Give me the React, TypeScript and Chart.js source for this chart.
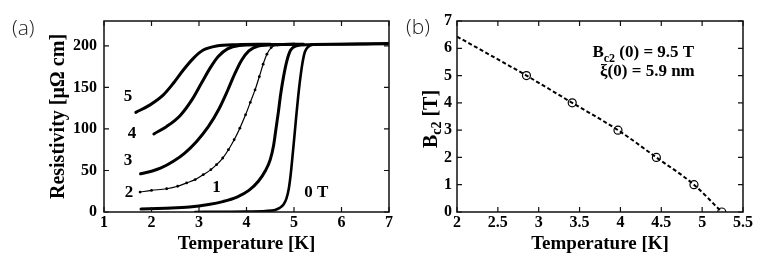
import React, { useEffect, useRef } from "react";
import { Chart, registerables } from "chart.js";
Chart.register(...registerables);

type Pt = [number, number];

// ---------- Panel (a): resistivity vs temperature ----------
const tempTicksA = [1, 2, 3, 4, 5, 6, 7];
const rhoTicks = [0, 50, 100, 150, 200];

const rho0T: Pt[] = [
  [2.92, 0], [3.5, 0.3], [4.0, 0.6], [4.4, 1.2], [4.6, 2.5], [4.7, 5], [4.78, 9], [4.84, 16],
  [4.89, 28], [4.93, 45], [4.97, 68], [5.01, 92], [5.05, 117], [5.09, 140], [5.13, 160],
  [5.18, 180], [5.23, 193], [5.3, 199], [5.4, 201.5], [5.8, 202], [6.5, 202.5], [7, 203],
];
const rho1T: Pt[] = [
  [1.78, 3.5], [2.3, 4.5], [2.8, 6], [3.2, 9], [3.5, 12.5], [3.8, 18], [4.05, 26], [4.25, 37],
  [4.4, 50], [4.5, 63], [4.57, 80], [4.62, 100], [4.67, 120], [4.72, 142], [4.78, 163],
  [4.85, 182], [4.93, 195], [5.05, 200], [5.3, 201.5], [6, 202], [7, 202.5],
];
const rho2T: Pt[] = [
  [1.76, 24], [2.0, 26], [2.32, 28], [2.55, 31], [2.74, 35], [2.92, 39], [3.09, 45], [3.25, 51],
  [3.37, 57], [3.5, 65], [3.62, 75], [3.74, 87], [3.86, 101], [3.98, 117], [4.08, 132],
  [4.18, 147], [4.27, 163], [4.35, 178], [4.43, 190], [4.52, 198], [4.65, 201], [5.0, 202],
];
const rho3T: Pt[] = [
  [1.77, 46], [2.0, 49], [2.2, 53], [2.46, 61], [2.7, 71], [2.95, 85], [3.2, 103], [3.42, 124],
  [3.6, 146], [3.75, 166], [3.9, 183], [4.05, 194], [4.25, 200], [4.6, 201.5], [5.2, 202],
];
const rho4T: Pt[] = [
  [2.05, 94], [2.32, 103], [2.6, 116], [2.85, 135], [3.05, 155], [3.23, 173], [3.4, 187],
  [3.6, 196.5], [3.85, 200.5], [4.3, 201.5], [5.0, 202],
];
const rho5T: Pt[] = [
  [1.67, 120], [1.97, 129], [2.25, 141], [2.46, 155], [2.67, 171], [2.88, 185], [3.09, 195],
  [3.37, 200], [3.8, 201.5], [4.5, 202],
];

// ---------- Panel (b): Bc2 vs temperature ----------
const tempTicksB = [2, 2.5, 3, 3.5, 4, 4.5, 5, 5.5];
const bc2Ticks = [0, 1, 2, 3, 4, 5, 6, 7];
const tcPoints: Pt[] = [[2.85, 5], [3.41, 4], [3.97, 3], [4.44, 2], [4.9, 1], [5.24, 0]];
const fitLine: Pt[] = [[2.0, 6.43], [2.85, 5], [3.41, 4], [3.97, 3], [4.44, 2], [4.9, 1], [5.24, 0]];

const SERIF = '"Liberation Serif", "Times New Roman", serif';
const SANS = '"Open Sans", "Noto Sans", sans-serif';

const toXY = (pts: Pt[]) => pts.map(([x, y]) => ({ x, y }));

const fixSize = (size: number, horizontal: boolean) => (scale: any) => {
  if (horizontal) scale.height = size;
  else scale.width = size;
  scale.paddingLeft = 0;
  scale.paddingRight = 0;
  scale.paddingTop = 0;
  scale.paddingBottom = 0;
};

const framePlugin = {
  id: "frame",
  afterDatasetsDraw(chart: any) {
    const { ctx, chartArea, scales } = chart;
    const { left, right, top, bottom } = chartArea;
    ctx.save();
    ctx.strokeStyle = "#111";
    ctx.lineWidth = 1.5;
    ctx.strokeRect(left, top, right - left, bottom - top);
    const len = 5;
    ctx.lineWidth = 1.2;
    ctx.beginPath();
    scales.x.ticks.forEach((t: any) => {
      const px = scales.x.getPixelForValue(t.value);
      ctx.moveTo(px, bottom);
      ctx.lineTo(px, bottom - len);
      ctx.moveTo(px, top);
      ctx.lineTo(px, top + len);
    });
    scales.y.ticks.forEach((t: any) => {
      const py = scales.y.getPixelForValue(t.value);
      ctx.moveTo(left, py);
      ctx.lineTo(left + len, py);
      ctx.moveTo(right, py);
      ctx.lineTo(right - len, py);
    });
    ctx.stroke();
    ctx.restore();
  },
};

type Seg = { t: string; sub?: boolean };
function drawRich(ctx: CanvasRenderingContext2D, segs: Seg[], cx: number, y: number, size: number, subSize: number, subDy: number) {
  const f = (s: number) => `bold ${s}px ${SERIF}`;
  const widths = segs.map((s) => {
    ctx.font = f(s.sub ? subSize : size);
    return ctx.measureText(s.t).width;
  });
  const total = widths.reduce((a, b) => a + b, 0);
  let x = cx - total / 2;
  ctx.textAlign = "left";
  ctx.textBaseline = "alphabetic";
  segs.forEach((s, i) => {
    ctx.font = f(s.sub ? subSize : size);
    ctx.fillText(s.t, x, s.sub ? y + subDy : y);
    x += widths[i];
  });
}

const axisFont = (size: number) => ({ family: SERIF, size, weight: "bold" as const });

function baseScale(min: number, max: number, ticks: number[], fixed: number, horizontal: boolean, padding: number) {
  return {
    type: "linear" as const,
    min,
    max,
    afterBuildTicks: (s: any) => {
      s.ticks = ticks.map((v) => ({ value: v }));
    },
    afterFit: fixSize(fixed, horizontal),
    grid: { display: false, drawTicks: false },
    border: { display: false },
    ticks: {
      font: axisFont(16),
      color: "#000",
      padding,
      maxRotation: 0,
      autoSkip: false,
      callback: (v: any) => String(v),
    },
  };
}

function curve(data: Pt[], width: number, dots = false) {
  return {
    data: toXY(data),
    showLine: true,
    borderColor: "#000",
    backgroundColor: "#000",
    borderWidth: width,
    pointRadius: dots ? 1.4 : 0,
    pointBorderWidth: 0,
    cubicInterpolationMode: "monotone" as const,
    borderCapStyle: "round" as const,
  };
}

function configA(): any {
  return {
    type: "scatter",
    data: {
      datasets: [
        curve(rho0T, 2.6),
        curve(rho1T, 3),
        curve(rho2T, 1.2, true),
        curve(rho3T, 3),
        curve(rho4T, 3),
        curve(rho5T, 3),
      ],
    },
    options: {
      responsive: false,
      animation: false,
      devicePixelRatio: 1,
      layout: { padding: { left: 0, top: 21, right: 6, bottom: 0 } },
      plugins: { legend: { display: false }, tooltip: { enabled: false } },
      scales: {
        x: {
          ...baseScale(1, 7, tempTicksA, 56, true, 1),
          title: { display: true, text: "Temperature [K]", font: axisFont(19), color: "#000", padding: { top: 0, bottom: 13 } },
        },
        y: {
          ...baseScale(0, 230, rhoTicks, 104, false, 7),
          title: { display: true, text: "Resistivity [μΩ cm]", font: axisFont(20), color: "#000", padding: { top: 46.5, bottom: 0 } },
        },
      },
    },
    plugins: [
      framePlugin,
      {
        id: "labelsA",
        afterDraw(chart: any) {
          const { ctx, scales } = chart;
          const labels: [string, number, number][] = [
            ["5", 1.505, 138.8],
            ["4", 1.59, 93.8],
            ["3", 1.505, 61.9],
            ["2", 1.526, 23.4],
            ["1", 3.37, 28.8],
            ["0 T", 5.47, 23.1],
          ];
          ctx.save();
          ctx.fillStyle = "#000";
          ctx.font = `bold 17px ${SERIF}`;
          ctx.textAlign = "center";
          ctx.textBaseline = "middle";
          labels.forEach(([t, x, y]) => ctx.fillText(t, scales.x.getPixelForValue(x), scales.y.getPixelForValue(y)));
          ctx.font = `300 21px ${SANS}`;
          ctx.fillStyle = "#222";
          ctx.textAlign = "left";
          ctx.fillText("(a)", 12, 29.5);
          ctx.restore();
        },
      },
    ],
  };
}

function configB(): any {
  return {
    type: "scatter",
    data: {
      datasets: [
        {
          data: toXY(fitLine),
          showLine: true,
          borderColor: "#000",
          borderWidth: 2,
          borderDash: [4, 2.5],
          pointRadius: 0,
          cubicInterpolationMode: "monotone",
        },
        {
          data: toXY(tcPoints),
          showLine: false,
          pointRadius: 4,
          pointBorderWidth: 1.2,
          pointBorderColor: "#000",
          pointBackgroundColor: "rgba(0,0,0,0)",
        },
      ],
    },
    options: {
      responsive: false,
      animation: false,
      devicePixelRatio: 1,
      layout: { padding: { left: 0, top: 21, right: 33, bottom: 0 } },
      plugins: { legend: { display: false }, tooltip: { enabled: false } },
      scales: {
        x: {
          ...baseScale(2, 5.5, tempTicksB, 56, true, 1),
          title: { display: true, text: "Temperature [K]", font: axisFont(19), color: "#000", padding: { top: 0, bottom: 13 } },
        },
        y: {
          ...baseScale(0, 7, bc2Ticks, 62, false, 5),
          title: { display: false },
        },
      },
    },
    plugins: [
      framePlugin,
      {
        id: "labelsB",
        afterDraw(chart: any) {
          const { ctx, scales } = chart;
          ctx.save();
          ctx.fillStyle = "#000";
          drawRich(ctx, [{ t: "B" }, { t: "c2", sub: true }, { t: " (0) = 9.5 T" }],
            scales.x.getPixelForValue(4.28), scales.y.getPixelForValue(5.69), 17, 12, 5);
          drawRich(ctx, [{ t: "ξ(0) = 5.9 nm" }],
            scales.x.getPixelForValue(4.33), scales.y.getPixelForValue(4.98), 17, 12, 5);
          ctx.save();
          ctx.translate(41.7, 119);
          ctx.rotate(-Math.PI / 2);
          drawRich(ctx, [{ t: "B" }, { t: "c2", sub: true }, { t: " [T]" }], 0, 0, 20, 14, 4);
          ctx.restore();
          ctx.font = `300 21px ${SANS}`;
          ctx.fillStyle = "#222";
          ctx.textAlign = "left";
          ctx.textBaseline = "middle";
          ctx.fillText("(b)", 11, 28.5);
          ctx.restore();
        },
      },
    ],
  };
}

export default function App() {
  const refA = useRef<HTMLCanvasElement>(null);
  const refB = useRef<HTMLCanvasElement>(null);
  useEffect(() => {
    const a = new Chart(refA.current!, configA());
    const b = new Chart(refB.current!, configB());
    return () => {
      a.destroy();
      b.destroy();
    };
  }, []);
  return (
    <div style={{ position: "absolute", left: 0, top: 0, width: 776, height: 268, background: "#fff", overflow: "hidden" }}>
      <canvas ref={refA} width={395} height={268} style={{ position: "absolute", left: 0, top: 0, width: 395, height: 268 }} />
      <canvas ref={refB} width={381} height={268} style={{ position: "absolute", left: 395, top: 0, width: 381, height: 268 }} />
    </div>
  );
}
